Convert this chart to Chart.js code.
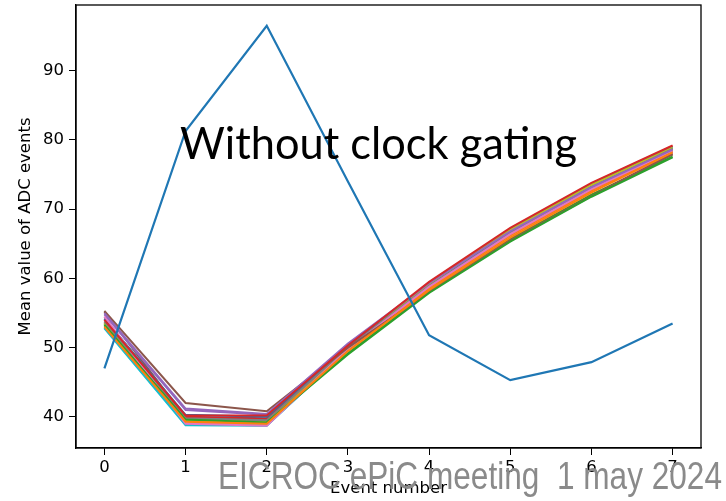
<!DOCTYPE html>
<html>
<head>
<meta charset="utf-8">
<script src="https://cdn.jsdelivr.net/npm/chart.js@4"></script>
<style>
html,body{margin:0;padding:0;background:#fff;}
#wrap{width:726px;height:501px;}
</style>
</head>
<body>
<div id="wrap"><canvas id="c" width="726" height="501"></canvas></div>
<script>
// Event numbers (x) and y tick labels
const events = [0, 1, 2, 3, 4, 5, 6, 7];
const yTickValues = [40, 50, 60, 70, 80, 90];

// Series (mean ADC value per event), one per channel
const ch00 = [47.0, 81.3, 96.5, 74.0, 51.8, 45.3, 47.9, 53.5];
const ch01 = [53.0, 39.3, 39.0, 49.5, 58.3, 65.9, 72.4, 78.2];
const ch02 = [53.3, 39.6, 39.2, 49.0, 57.9, 65.3, 71.8, 77.5];
const ch03 = [54.0, 40.2, 40.2, 50.3, 59.5, 67.3, 73.8, 79.2];
const ch04 = [55.0, 41.2, 40.4, 50.6, 59.3, 66.8, 73.2, 78.6];
const ch05 = [55.3, 42.0, 40.8, 50.0, 58.0, 65.5, 71.9, 78.0];
const ch06 = [54.5, 39.0, 38.7, 49.8, 58.8, 66.4, 72.9, 78.5];
const ch07 = [53.8, 39.8, 39.5, 50.0, 58.9, 66.5, 73.0, 78.7];
const ch08 = [53.5, 39.5, 39.3, 49.8, 59.2, 67.0, 73.5, 78.9];
const ch09 = [52.8, 38.8, 38.7, 49.7, 59.4, 67.1, 73.6, 79.0];
const ch10 = [54.2, 40.3, 40.0, 50.2, 59.0, 66.7, 73.3, 78.8];
const ch11 = [53.1, 39.4, 39.1, 49.6, 58.6, 66.2, 72.7, 78.4];
const ch12 = [53.4, 39.7, 39.4, 49.2, 58.1, 65.6, 72.1, 77.6];
const ch13 = [54.1, 40.0, 39.8, 50.1, 59.3, 67.1, 73.7, 79.1];
const ch14 = [54.8, 41.0, 40.3, 50.4, 59.1, 66.6, 73.0, 78.3];
const ch15 = [55.2, 39.9, 39.7, 49.9, 58.2, 65.7, 72.0, 77.9];
const ch16 = [54.4, 39.1, 38.9, 49.6, 58.5, 66.2, 72.6, 78.1];
const ch17 = [53.6, 39.6, 39.6, 49.9, 58.7, 66.3, 72.8, 78.6];
const ch18 = [53.7, 39.4, 39.2, 49.7, 59.0, 66.9, 73.4, 78.8];
const ch19 = [52.9, 38.9, 38.8, 49.5, 59.3, 66.9, 73.5, 78.9];

const channels = [ch00, ch01, ch02, ch03, ch04, ch05, ch06, ch07, ch08, ch09,
                  ch10, ch11, ch12, ch13, ch14, ch15, ch16, ch17, ch18, ch19];
const palette = ['#1f77b4', '#ff7f0e', '#2ca02c', '#d62728', '#9467bd',
                 '#8c564b', '#e377c2', '#7f7f7f', '#bcbd22', '#17becf'];

const datasets = channels.map((vals, i) => ({
  label: 'ch' + i,
  data: events.map((e, k) => ({x: e, y: vals[k]})),
  borderColor: palette[i % 10],
  backgroundColor: palette[i % 10],
  borderWidth: i === 0 ? 2.2 : 2,
  pointRadius: 0,
  tension: 0,
  fill: false
}));

const overlay = {
  id: 'overlay',
  afterDraw(chart) {
    const ctx = chart.ctx;
    const a = chart.chartArea;
    ctx.save();
    ctx.strokeStyle = '#000';
    ctx.lineWidth = 1.3;
    ctx.strokeRect(a.left, a.top, a.right - a.left, a.bottom - a.top);
    ctx.fillStyle = '#000';
    ctx.font = '44px Lato';
    ctx.textBaseline = 'alphabetic';
    let t = 'Without clock gating';
    let w = ctx.measureText(t).width;
    ctx.save();
    ctx.translate(180, 159);
    ctx.scale(397 / w, 1);
    ctx.fillText(t, 0, 0);
    ctx.restore();
    ctx.fillStyle = '#8a8a8a';
    ctx.font = '38px "Liberation Sans"';
    t = 'EICROC ePiC meeting  1 may 2024';
    w = ctx.measureText(t).width;
    ctx.save();
    ctx.translate(218, 489);
    ctx.scale(504 / w, 1);
    ctx.fillText(t, 0, 0);
    ctx.restore();
    ctx.restore();
  }
};

const tickFont = { family: 'DejaVu Sans', size: 16.5 };

new Chart(document.getElementById('c'), {
  type: 'line',
  data: { datasets },
  plugins: [overlay],
  options: {
    responsive: false,
    animation: false,
    events: [],
    layout: { padding: { top: 5, right: 25, left: 0, bottom: 0 } },
    plugins: { legend: { display: false }, tooltip: { enabled: false } },
    scales: {
      x: {
        type: 'linear',
        min: -0.35,
        max: 7.35,
        afterBuildTicks: s => { s.ticks = events.map(v => ({ value: v })); },
        afterFit: s => { s.height = 53; s.paddingLeft = 0; s.paddingRight = 0; },
        border: { display: true, color: '#000', width: 1.3 },
        grid: { display: true, drawOnChartArea: false, drawTicks: true, tickLength: 7, color: '#000' },
        ticks: { color: '#000', font: tickFont, padding: 3, maxRotation: 0 },
        title: { display: true, text: 'Event number', color: '#000', font: tickFont, padding: { top: 0, bottom: 2 } }
      },
      y: {
        type: 'linear',
        min: 35.5,
        max: 99.5,
        afterBuildTicks: s => { s.ticks = yTickValues.map(v => ({ value: v })); },
        afterFit: s => { s.width = 76; s.paddingTop = 0; s.paddingBottom = 0; },
        border: { display: true, color: '#000', width: 1.3 },
        grid: { display: true, drawOnChartArea: false, drawTicks: true, tickLength: 7, color: '#000' },
        ticks: { color: '#000', font: tickFont, padding: 5 },
        title: { display: true, text: 'Mean value of ADC events', color: '#000', font: tickFont, padding: { top: 16, bottom: 0 } }
      }
    }
  }
});
</script>
</body>
</html>
